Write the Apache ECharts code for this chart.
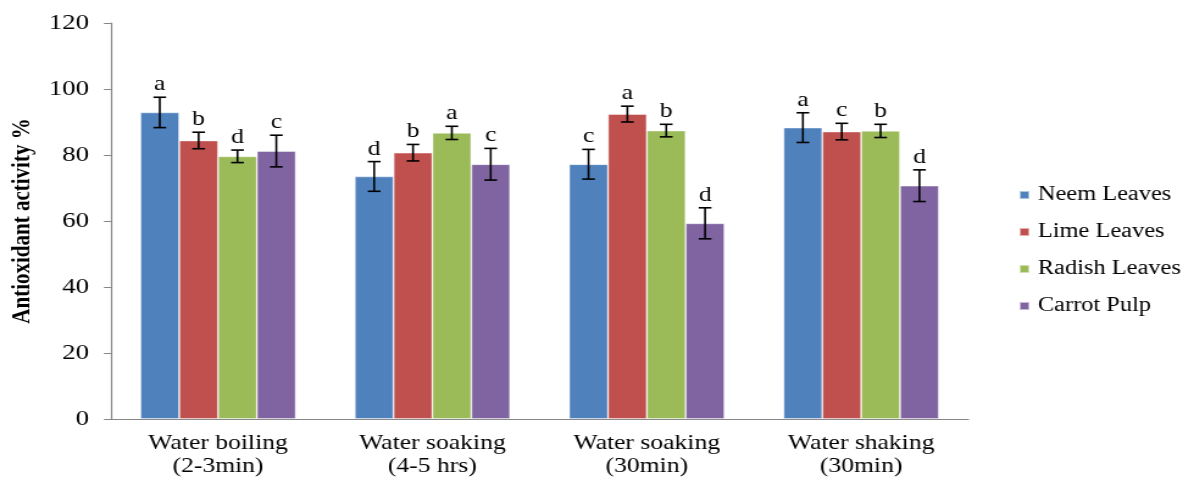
<!DOCTYPE html>
<html>
<head>
<meta charset="utf-8">
<title>Antioxidant activity by extraction method</title>
<script src="https://cdn.jsdelivr.net/npm/echarts@6/dist/echarts.min.js"></script>
<style>
  html, body { margin: 0; padding: 0; background: #fff; overflow: hidden; }
  /* the chart is laid out narrower and widened, giving the broad serif lettering */
  #chart { width: 970px; height: 478px; transform: scaleX(1.2196); transform-origin: 0 0; }
</style>
</head>
<body>
<div id="chart"></div>
<script>
// Extraction methods (x categories)
var categories = ['Water boiling\n(2-3min)', 'Water soaking\n(4-5 hrs)', 'Water soaking\n(30min)', 'Water shaking\n(30min)'];

// Sample names
var seriesNames = ['Neem Leaves', 'Lime Leaves', 'Radish Leaves', 'Carrot Pulp'];
var seriesColors = ['#4F81BD', '#C0504D', '#9BBB59', '#8064A2'];

// Mean antioxidant activity (%)
var neem   = [92.9, 73.5, 77.2, 88.3];
var lime   = [84.4, 80.7, 92.4, 87.1];
var radish = [79.6, 86.7, 87.4, 87.3];
var carrot = [81.2, 77.2, 59.3, 70.7];

// Standard deviations (error bars)
var neemErr   = [4.6, 4.5, 4.5, 4.5];
var limeErr   = [2.5, 2.5, 2.4, 2.5];
var radishErr = [1.9, 2.0, 1.9, 2.0];
var carrotErr = [4.8, 4.8, 4.7, 4.8];

// Significance letters
var neemSig   = ['a', 'd', 'c', 'a'];
var limeSig   = ['b', 'b', 'a', 'c'];
var radishSig = ['d', 'a', 'b', 'b'];
var carrotSig = ['c', 'c', 'd', 'd'];

// Y axis range
var yMin = 0, yMax = 120, yStep = 20;

var values = [neem, lime, radish, carrot];
var errors = [neemErr, limeErr, radishErr, carrotErr];
var sigs = [neemSig, limeSig, radishSig, carrotSig];

var FONT = '"Liberation Serif", "Times New Roman", serif';
var CAT_GAP = 0.275;
var nSeries = values.length;

function errorBarRenderer(idx) {
  return function (params, api) {
    var cat = api.value(0);
    var mean = api.value(1);
    var err = api.value(2);
    var letter = sigs[idx][params.dataIndex];
    var center = api.coord([cat, mean]);
    var band = api.size([1, 0])[0];
    var barW = band * (1 - CAT_GAP) / nSeries;
    var x = center[0] + (idx - (nSeries - 1) / 2) * barW;
    var top = api.coord([cat, mean + err])[1];
    var bot = api.coord([cat, mean - err])[1];
    var cap = 5.2;
    var lineStyle = { stroke: '#000', lineWidth: 1.6 };
    return {
      type: 'group',
      children: [
        { type: 'line', shape: { x1: x, y1: top, x2: x, y2: bot }, style: lineStyle },
        { type: 'line', shape: { x1: x - cap, y1: top, x2: x + cap, y2: top }, style: lineStyle },
        { type: 'line', shape: { x1: x - cap, y1: bot, x2: x + cap, y2: bot }, style: lineStyle },
        {
          type: 'text',
          style: {
            text: letter, x: x, y: top - 2,
            align: 'center', verticalAlign: 'bottom',
            fontFamily: FONT, fontSize: 21, fill: '#000'
          }
        }
      ]
    };
  };
}

var series = [];
values.forEach(function (vals, i) {
  series.push({
    name: seriesNames[i],
    type: 'bar',
    data: vals,
    barGap: '0%',
    barCategoryGap: (CAT_GAP * 100) + '%',
    itemStyle: { color: seriesColors[i], borderColor: 'rgba(255,255,255,0.55)', borderWidth: 0.8 },
    emphasis: { disabled: true }
  });
});
values.forEach(function (vals, i) {
  series.push({
    name: seriesNames[i] + ' SD',
    type: 'custom',
    renderItem: errorBarRenderer(i),
    data: vals.map(function (v, j) { return [j, v, errors[i][j]]; }),
    encode: { x: 0, y: 1 },
    z: 5,
    silent: true
  });
});

var chart = echarts.init(document.getElementById('chart'), null, { renderer: 'canvas' });
chart.setOption({
  animation: false,
  backgroundColor: '#fff',
  grid: { left: 85, right: 176, top: 23, bottom: 59, containLabel: false },
  legend: {
    data: seriesNames,
    orient: 'vertical',
    left: 830,
    top: 180,
    itemWidth: 8,
    itemHeight: 8,
    itemGap: 17,
    icon: 'rect',
    textStyle: { fontFamily: FONT, fontSize: 20, color: '#000', padding: [0, 0, 0, 2] },
    selectedMode: false
  },
  xAxis: {
    type: 'category',
    data: categories,
    axisLine: { lineStyle: { color: '#868686', width: 1.2 } },
    axisTick: { show: false },
    axisLabel: { fontFamily: FONT, fontSize: 21, lineHeight: 23, color: '#000', margin: 13, interval: 0 },
    splitLine: { show: false }
  },
  yAxis: {
    type: 'value',
    min: yMin, max: yMax, interval: yStep,
    name: 'Antioxidant activity %',
    nameLocation: 'middle',
    nameGap: 58,
    nameRotate: 90,
    nameTextStyle: { fontFamily: FONT, fontSize: 21, fontWeight: 'bold', color: '#000' },
    axisLine: { show: true, lineStyle: { color: '#868686', width: 1.2 } },
    axisTick: { show: true, inside: false, length: 5.7, lineStyle: { color: '#868686' } },
    axisLabel: { fontFamily: FONT, fontSize: 22, color: '#000', margin: 18 },
    splitLine: { show: false }
  },
  series: series
});
</script>
</body>
</html>
